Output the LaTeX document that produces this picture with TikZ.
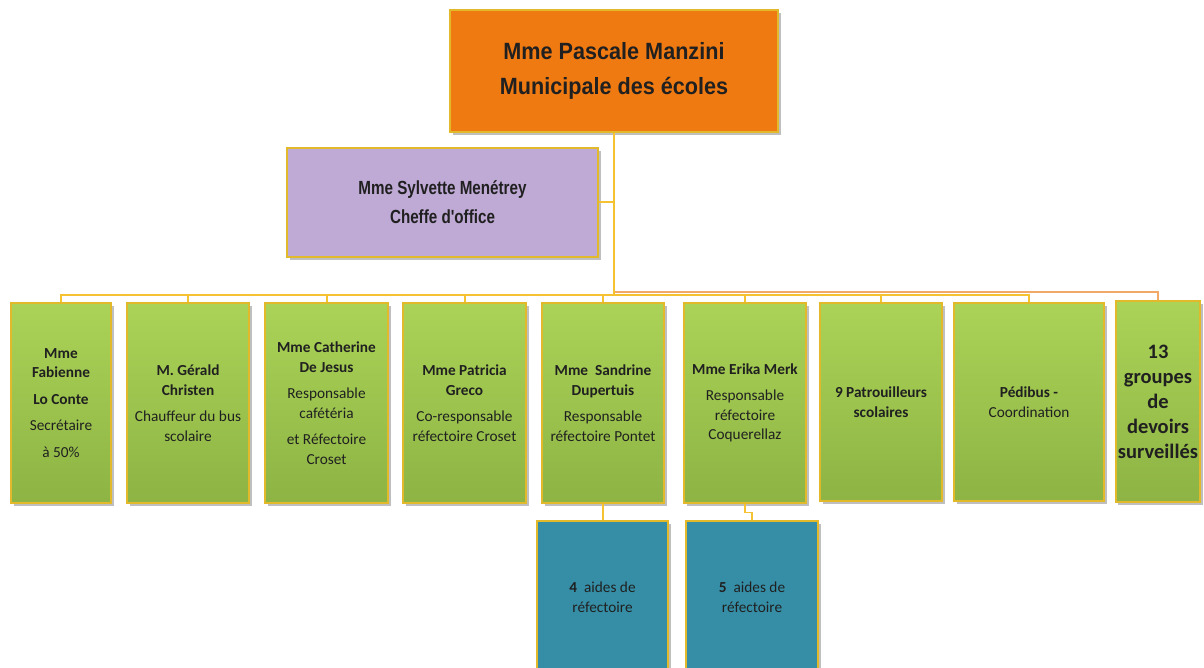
\documentclass[tikz,border=0pt]{standalone}
\usepackage{fontspec}
\setmainfont{Carlito}
\newfontfamily\headfont[FakeStretch=0.92]{Liberation Sans}
\newfontfamily\officefont[FakeStretch=0.80]{Liberation Sans}
\usepackage{tikz}
\usepackage{xcolor}
\usetikzlibrary{shapes,shadows}
\definecolor{boxedge}{HTML}{E3B92C}
\definecolor{linegold}{HTML}{F5C332}
\definecolor{lineorange}{HTML}{F2A867}
\definecolor{headorange}{HTML}{F07A12}
\definecolor{officeviolet}{HTML}{BFA9D5}
\definecolor{greentop}{HTML}{ABD357}
\definecolor{greenbot}{HTML}{8DB444}
\definecolor{aideblue}{HTML}{358EA6}
\definecolor{textgray}{HTML}{202020}
\tikzstyle{box} = [rectangle, draw=boxedge, line width=1.2pt, inner sep=2pt,
align=center, text=textgray, drop shadow={shadow xshift=2.5pt, shadow yshift=-3pt, opacity=0.5}]
\tikzstyle{head} = [box, fill=headorange, minimum width=328pt, minimum height=122pt,
font=\headfont\bfseries\fontsize{23.5}{35}\selectfont]
\tikzstyle{office} = [box, fill=officeviolet, minimum width=311pt, minimum height=109pt,
font=\officefont\bfseries\fontsize{19}{29}\selectfont]
\tikzstyle{staff} = [box, top color=greentop, bottom color=greenbot, minimum height=200pt,
font=\fontsize{15.3}{19.5}\selectfont]
\tikzstyle{aide} = [box, fill=aideblue, minimum height=152pt, font=\fontsize{15.3}{19.5}\selectfont]
\tikzstyle{line} = [draw=linegold, line width=2pt]
\tikzstyle{oline} = [draw=lineorange, line width=2pt]

\begin{document}
\begin{tikzpicture}[x=1pt, y=-1pt]
        \clip (0,0) rectangle (1204,668);
        \node [head] (pascale) at (614,71) {Mme Pascale Manzini\\Municipale des écoles};
        \node [office] (sylvette) at (442.5,202.5) {Mme Sylvette Menétrey\\Cheffe d'office};

        \node [staff, minimum width=100pt] (fabienne) at (61,403)
          {\textbf{Mme}\\\textbf{Fabienne}\\[7pt]\textbf{Lo Conte}\\[7pt]Secrétaire\\[7pt]à 50\%};
        \node [staff, minimum width=122pt] (gerald) at (188,403)
          {\textbf{M. Gérald}\\\textbf{Christen}\\[7pt]Chauffeur du bus\\scolaire};
        \node [staff, minimum width=123pt] (catherine) at (326.5,403)
          {\textbf{Mme Catherine}\\\textbf{De Jesus}\\[7pt]Responsable\\cafétéria\\[7pt]et Réfectoire\\Croset};
        \node [staff, minimum width=123pt] (patricia) at (464.5,403)
          {\textbf{Mme Patricia}\\\textbf{Greco}\\[7pt]Co-responsable\\réfectoire Croset};
        \node [staff, minimum width=122pt] (sandrine) at (603,403)
          {\textbf{Mme~ Sandrine}\\\textbf{Dupertuis}\\[7pt]Responsable\\réfectoire Pontet};
        \node [staff, minimum width=122pt] (erika) at (745,403)
          {\textbf{Mme Erika Merk}\\[7pt]Responsable\\réfectoire\\Coquerellaz};
        \node [staff, minimum width=122pt, minimum height=198pt] (patrouille) at (881,402)
          {\textbf{9 Patrouilleurs}\\\textbf{scolaires}};
        \node [staff, minimum width=150pt, minimum height=198pt] (pedibus) at (1029,402)
          {\textbf{Pédibus -}\\Coordination};
        \node [staff, minimum width=84pt, minimum height=201pt, font=\bfseries\fontsize{20.5}{25}\selectfont] (devoirs) at (1158,401.5)
          {13\\groupes\\de\\devoirs\\surveillés};

        \node [aide, minimum width=131pt] (aidesa) at (602.5,597) {\textbf{4}~ aides de\\réfectoire};
        \node [aide, minimum width=132pt] (aidesb) at (752,597) {\textbf{5}~ aides de\\réfectoire};

        \coordinate (bus) at (614,295);
        \coordinate (obus) at (614,292);

        \path [oline] (devoirs.north) |- (obus);
        \path [line] (pascale.south) -- (bus);
        \path [line] (sylvette.east) -- (sylvette.east -| pascale.south);
        \foreach \who in {fabienne, gerald, catherine, patricia, sandrine, erika, patrouille, pedibus}
          \path [line] (\who.north) |- (bus);
        \path [line, line width=1.5pt] (sandrine.south) -- (sandrine.south |- aidesa.north);
        \path [line, line width=1.5pt] (erika.south) -- ++(0,9) -| (aidesb.north);
      \end{tikzpicture}
\end{document}
